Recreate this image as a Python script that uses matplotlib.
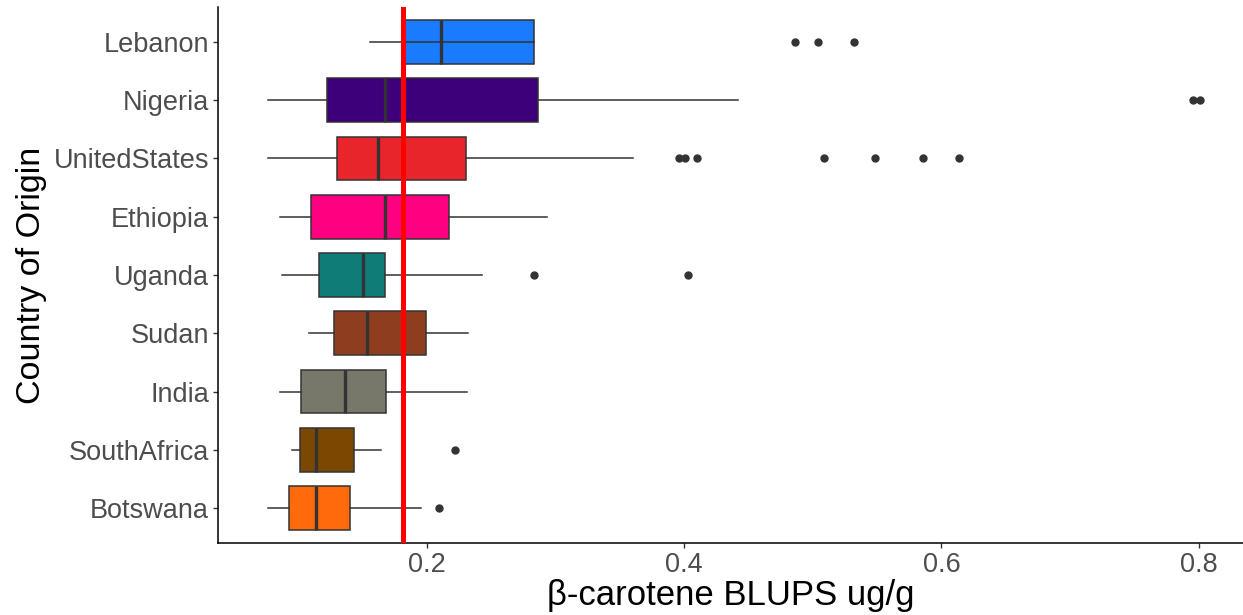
import matplotlib
matplotlib.use("Agg")
import matplotlib.pyplot as plt

plt.rcParams['font.family'] = ['Liberation Sans', 'DejaVu Sans']

# Boxplot summaries (bottom to top)
countries = ['Botswana', 'SouthAfrica', 'India', 'Sudan', 'Uganda',
             'Ethiopia', 'UnitedStates', 'Nigeria', 'Lebanon']
whislo = [0.076, 0.095, 0.086, 0.108, 0.087, 0.086, 0.076, 0.076, 0.156]
q1     = [0.093, 0.101, 0.102, 0.128, 0.116, 0.110, 0.130, 0.122, 0.182]
med    = [0.114, 0.114, 0.136, 0.153, 0.150, 0.167, 0.162, 0.167, 0.211]
q3     = [0.140, 0.143, 0.168, 0.199, 0.167, 0.217, 0.230, 0.286, 0.283]
whishi = [0.195, 0.164, 0.231, 0.232, 0.243, 0.293, 0.360, 0.442, 0.182]
fliers = [[0.209],
          [0.222],
          [],
          [],
          [0.283, 0.403],
          [],
          [0.396, 0.401, 0.410, 0.509, 0.548, 0.586, 0.614],
          [0.796, 0.801],
          [0.486, 0.504, 0.532]]
colors = ['#FF6A0D', '#7A4800', '#77776A', '#8E3E1F', '#107C78',
          '#FF0080', '#E8252B', '#3D007A', '#1A7BFF']
ref_line = 0.181

stats = []
for i, name in enumerate(countries):
    stats.append({'label': name, 'whislo': whislo[i], 'q1': q1[i], 'med': med[i],
                  'q3': q3[i], 'whishi': whishi[i], 'fliers': fliers[i]})

fig = plt.figure(figsize=(12.43, 6.15), dpi=100)
ax = fig.add_axes([0.1754, 0.117, 0.8246, 0.8716])

edge = '#333333'
bp = ax.bxp(stats, positions=range(1, len(countries) + 1), vert=False, widths=0.75,
            patch_artist=True, showcaps=False,
            boxprops=dict(edgecolor=edge, linewidth=1.1),
            whiskerprops=dict(color=edge, linewidth=1.1),
            medianprops=dict(color=edge, linewidth=2.4),
            flierprops=dict(marker='o', markersize=5, markerfacecolor=edge,
                            markeredgecolor=edge))
for patch, c in zip(bp['boxes'], colors):
    patch.set_facecolor(c)

# reference line
ax.axvline(ref_line, color='#FF0000', linewidth=3.6, zorder=5)

ax.set_xlim(0.0375, 0.8345)
ax.set_ylim(0.4, 9.6)
ax.set_xticks([0.2, 0.4, 0.6, 0.8])
ax.set_xticklabels(['0.2', '0.4', '0.6', '0.8'])
ax.set_yticks(range(1, len(countries) + 1))
ax.set_yticklabels(countries)

for s in ['top', 'right']:
    ax.spines[s].set_visible(False)
for s in ['left', 'bottom']:
    ax.spines[s].set_color('black')
    ax.spines[s].set_linewidth(1.1)

ax.tick_params(axis='both', length=3.5, width=1, color=edge,
               labelsize=19.5, labelcolor='#4D4D4D', pad=3)
ax.set_xlabel('β-carotene BLUPS ug/g', fontsize=25, labelpad=1)
ax.set_ylabel('Country of Origin', fontsize=24.5, labelpad=5)

fig.savefig('out.png', dpi=100)
